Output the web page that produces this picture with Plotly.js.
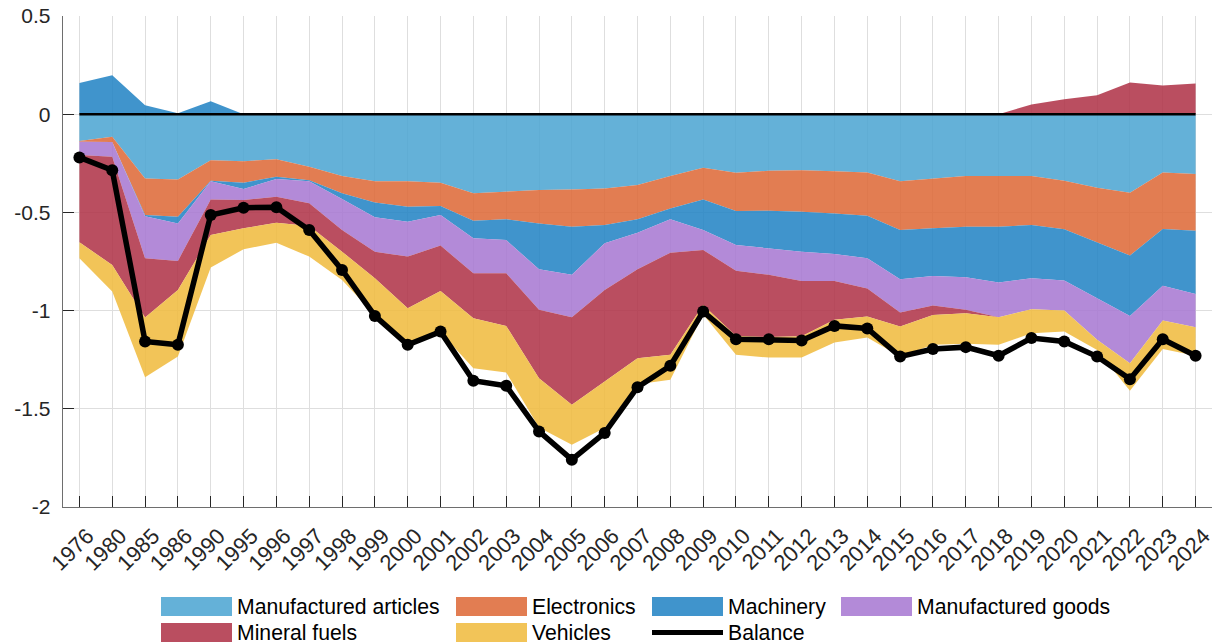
<!DOCTYPE html>
<html>
<head>
<meta charset="utf-8">
<script src="https://cdn.plot.ly/plotly-3.0.1.min.js"></script>
<style>
html,body{margin:0;padding:0;background:#ffffff;}
#chart{width:1215px;height:643px;}
</style>
</head>
<body>
<div id="chart"></div>
<script>
const years = ['1976','1980','1985','1986','1990','1995','1996','1997','1998','1999','2000','2001','2002','2003','2004','2005','2006','2007','2008','2009','2010','2011','2012','2013','2014','2015','2016','2017','2018','2019','2020','2021','2022','2023','2024'];

const manufacturedArticles = [-0.136,-0.115,-0.327,-0.332,-0.234,-0.239,-0.230,-0.268,-0.315,-0.341,-0.341,-0.349,-0.403,-0.395,-0.386,-0.383,-0.378,-0.361,-0.315,-0.273,-0.298,-0.288,-0.285,-0.290,-0.297,-0.341,-0.327,-0.315,-0.315,-0.315,-0.339,-0.375,-0.400,-0.297,-0.305];
const electronics = [-0.004,-0.027,-0.186,-0.190,-0.105,-0.110,-0.089,-0.068,-0.088,-0.108,-0.130,-0.119,-0.139,-0.140,-0.170,-0.190,-0.186,-0.174,-0.165,-0.161,-0.195,-0.203,-0.212,-0.215,-0.220,-0.249,-0.254,-0.258,-0.258,-0.249,-0.247,-0.279,-0.320,-0.288,-0.288];
const machineryNeg = [0,0,-0.006,-0.034,-0.003,-0.032,-0.011,-0.005,-0.029,-0.076,-0.076,-0.045,-0.090,-0.106,-0.234,-0.245,-0.093,-0.068,-0.055,-0.156,-0.173,-0.192,-0.203,-0.207,-0.217,-0.251,-0.243,-0.257,-0.284,-0.271,-0.261,-0.283,-0.307,-0.288,-0.322];
const machineryPos = [0.159,0.198,0.046,0.005,0.066,0,0,0,0,0,0,0,0,0,0,0,0,0,0,0,0,0,0,0,0,0,0,0,0,0,0,0,0,0,0];
const manufacturedGoods = [-0.068,-0.075,-0.215,-0.191,-0.092,-0.056,-0.090,-0.113,-0.158,-0.175,-0.178,-0.156,-0.178,-0.169,-0.206,-0.216,-0.238,-0.187,-0.170,-0.101,-0.131,-0.135,-0.149,-0.137,-0.154,-0.169,-0.150,-0.166,-0.177,-0.158,-0.153,-0.212,-0.241,-0.178,-0.170];
const mineralFuelsNeg = [-0.444,-0.551,-0.301,-0.148,-0.181,-0.144,-0.133,-0.115,-0.110,-0.135,-0.263,-0.231,-0.229,-0.268,-0.348,-0.445,-0.466,-0.452,-0.520,-0.280,-0.332,-0.317,-0.281,-0.198,-0.142,-0.071,-0.048,-0.017,0,0,0,0,0,0,0];
const mineralFuelsPos = [0,0,0,0,0,0,0,0,0,0,0,0,0,0,0,0,0,0,0,0,0,0,0,0,0,0,0,0,0,0.049,0.076,0.097,0.161,0.146,0.156];
const vehicles = [-0.082,-0.135,-0.304,-0.339,-0.165,-0.107,-0.101,-0.156,-0.144,-0.187,-0.186,-0.210,-0.254,-0.237,-0.251,-0.204,-0.237,-0.133,-0.127,-0.049,-0.096,-0.104,-0.109,-0.116,-0.107,-0.153,-0.152,-0.156,-0.140,-0.122,-0.107,-0.051,-0.140,-0.145,-0.145];
const balance = [-0.220,-0.285,-1.157,-1.174,-0.513,-0.476,-0.474,-0.590,-0.793,-1.027,-1.174,-1.107,-1.357,-1.383,-1.615,-1.759,-1.623,-1.390,-1.281,-1.005,-1.146,-1.146,-1.152,-1.078,-1.091,-1.234,-1.196,-1.186,-1.230,-1.140,-1.157,-1.234,-1.349,-1.146,-1.230];

const yTickVals = [0.5, 0, -0.5, -1, -1.5, -2];
const yTickText = ['0.5', '0', '-0.5', '-1', '-1.5', '-2'];

const seriesNames = ['Manufactured articles','Electronics','Machinery','Manufactured goods','Mineral fuels','Vehicles','Balance'];

const colors = {
  articles: 'rgba(78,166,211,0.88)',
  electronics: 'rgba(222,107,58,0.88)',
  machinery: 'rgba(38,133,197,0.88)',
  goods: 'rgba(168,122,211,0.88)',
  fuels: 'rgba(176,53,74,0.88)',
  vehicles: 'rgba(240,188,65,0.88)'
};

function area(y, color, group, name) {
  return {
    type: 'scatter', mode: 'lines', x: years, y: y, name: name,
    stackgroup: group, fill: 'tonexty', fillcolor: color,
    line: {width: 0, color: color}, hoverinfo: 'skip', showlegend: false
  };
}

const traces = [
  area(manufacturedArticles, colors.articles, 'neg', seriesNames[0]),
  area(electronics, colors.electronics, 'neg', seriesNames[1]),
  area(machineryNeg, colors.machinery, 'neg', seriesNames[2]),
  area(manufacturedGoods, colors.goods, 'neg', seriesNames[3]),
  area(mineralFuelsNeg, colors.fuels, 'neg', seriesNames[4]),
  area(vehicles, colors.vehicles, 'neg', seriesNames[5]),
  area(machineryPos, colors.machinery, 'pos', seriesNames[2]),
  area(mineralFuelsPos, colors.fuels, 'pos', seriesNames[4]),
  {
    type: 'scatter', mode: 'lines+markers', x: years, y: balance, name: seriesNames[6],
    line: {color: '#000000', width: 5.5},
    marker: {color: '#000000', size: 12, symbol: 'circle'},
    hoverinfo: 'skip', showlegend: false
  }
];

// layout geometry (pixels)
const W = 1215, H = 643;
const M = {l: 63, r: 3, t: 16, b: 136};
const PW = W - M.l - M.r, PH = H - M.t - M.b;
function px(xp) { return (xp - M.l) / PW; }
function py(yp) { return (H - M.b - yp) / PH; }

const shapes = [
  {type: 'line', xref: 'x', yref: 'y', x0: 0, x1: years.length - 1, y0: 0, y1: 0,
   line: {color: '#000000', width: 2.6}, layer: 'above'}
];
const annotations = [];

// custom legend (MATLAB style), 4 columns x 2 rows
const legendItems = [
  {name: seriesNames[0], color: colors.articles, sx: 161, tx: 236, row: 0},
  {name: seriesNames[1], color: colors.electronics, sx: 456, tx: 531, row: 0},
  {name: seriesNames[2], color: colors.machinery, sx: 652, tx: 727, row: 0},
  {name: seriesNames[3], color: colors.goods, sx: 841, tx: 916, row: 0},
  {name: seriesNames[4], color: colors.fuels, sx: 161, tx: 236, row: 1},
  {name: seriesNames[5], color: colors.vehicles, sx: 456, tx: 531, row: 1},
  {name: seriesNames[6], color: '#000000', sx: 652, tx: 727, row: 1, isLine: true}
];
const rowY = [606.5, 632.5];
legendItems.forEach(function(it) {
  const cy = rowY[it.row];
  if (it.isLine) {
    shapes.push({type: 'line', xref: 'paper', yref: 'paper',
      x0: px(it.sx), x1: px(it.sx + 71), y0: py(cy), y1: py(cy),
      line: {color: '#000000', width: 5}});
  } else {
    shapes.push({type: 'rect', xref: 'paper', yref: 'paper',
      x0: px(it.sx), x1: px(it.sx + 71), y0: py(cy - 9.5), y1: py(cy + 9.5),
      fillcolor: it.color, line: {width: 0}});
  }
  annotations.push({xref: 'paper', yref: 'paper', x: px(it.tx), y: py(cy),
    xanchor: 'left', yanchor: 'middle', showarrow: false, text: it.name,
    font: {size: 21.2, color: '#000000'}, borderpad: 0});
});

const layout = {
  width: W, height: H,
  margin: {l: M.l, r: M.r, t: M.t, b: M.b, pad: 0},
  paper_bgcolor: '#ffffff', plot_bgcolor: '#ffffff',
  font: {family: 'Liberation Sans, Arial, Helvetica, sans-serif', color: '#262626'},
  showlegend: false,
  xaxis: {
    type: 'category', range: [-0.5, years.length - 0.5], automargin: false,
    tickangle: -45, ticks: 'inside', ticklen: 11, tickwidth: 1, tickcolor: '#262626',
    showline: true, linecolor: '#6e6e6e', linewidth: 1.3,
    showgrid: true, gridcolor: '#dedede', gridwidth: 1, zeroline: false,
    tickfont: {size: 22, color: '#262626'}, ticklabelstandoff: 6, ticklabelshift: 8,
    fixedrange: true
  },
  yaxis: {
    range: [-2, 0.5], automargin: false,
    tickmode: 'array', tickvals: yTickVals, ticktext: yTickText,
    ticks: 'inside', ticklen: 11, tickwidth: 1, tickcolor: '#262626',
    showline: true, linecolor: '#6e6e6e', linewidth: 1.3,
    showgrid: true, gridcolor: '#dedede', gridwidth: 1, zeroline: false,
    tickfont: {size: 21, color: '#262626'}, ticklabelstandoff: 7, fixedrange: true
  },
  shapes: shapes,
  annotations: annotations
};

Plotly.newPlot('chart', traces, layout, {displayModeBar: false, staticPlot: true});
</script>
</body>
</html>
